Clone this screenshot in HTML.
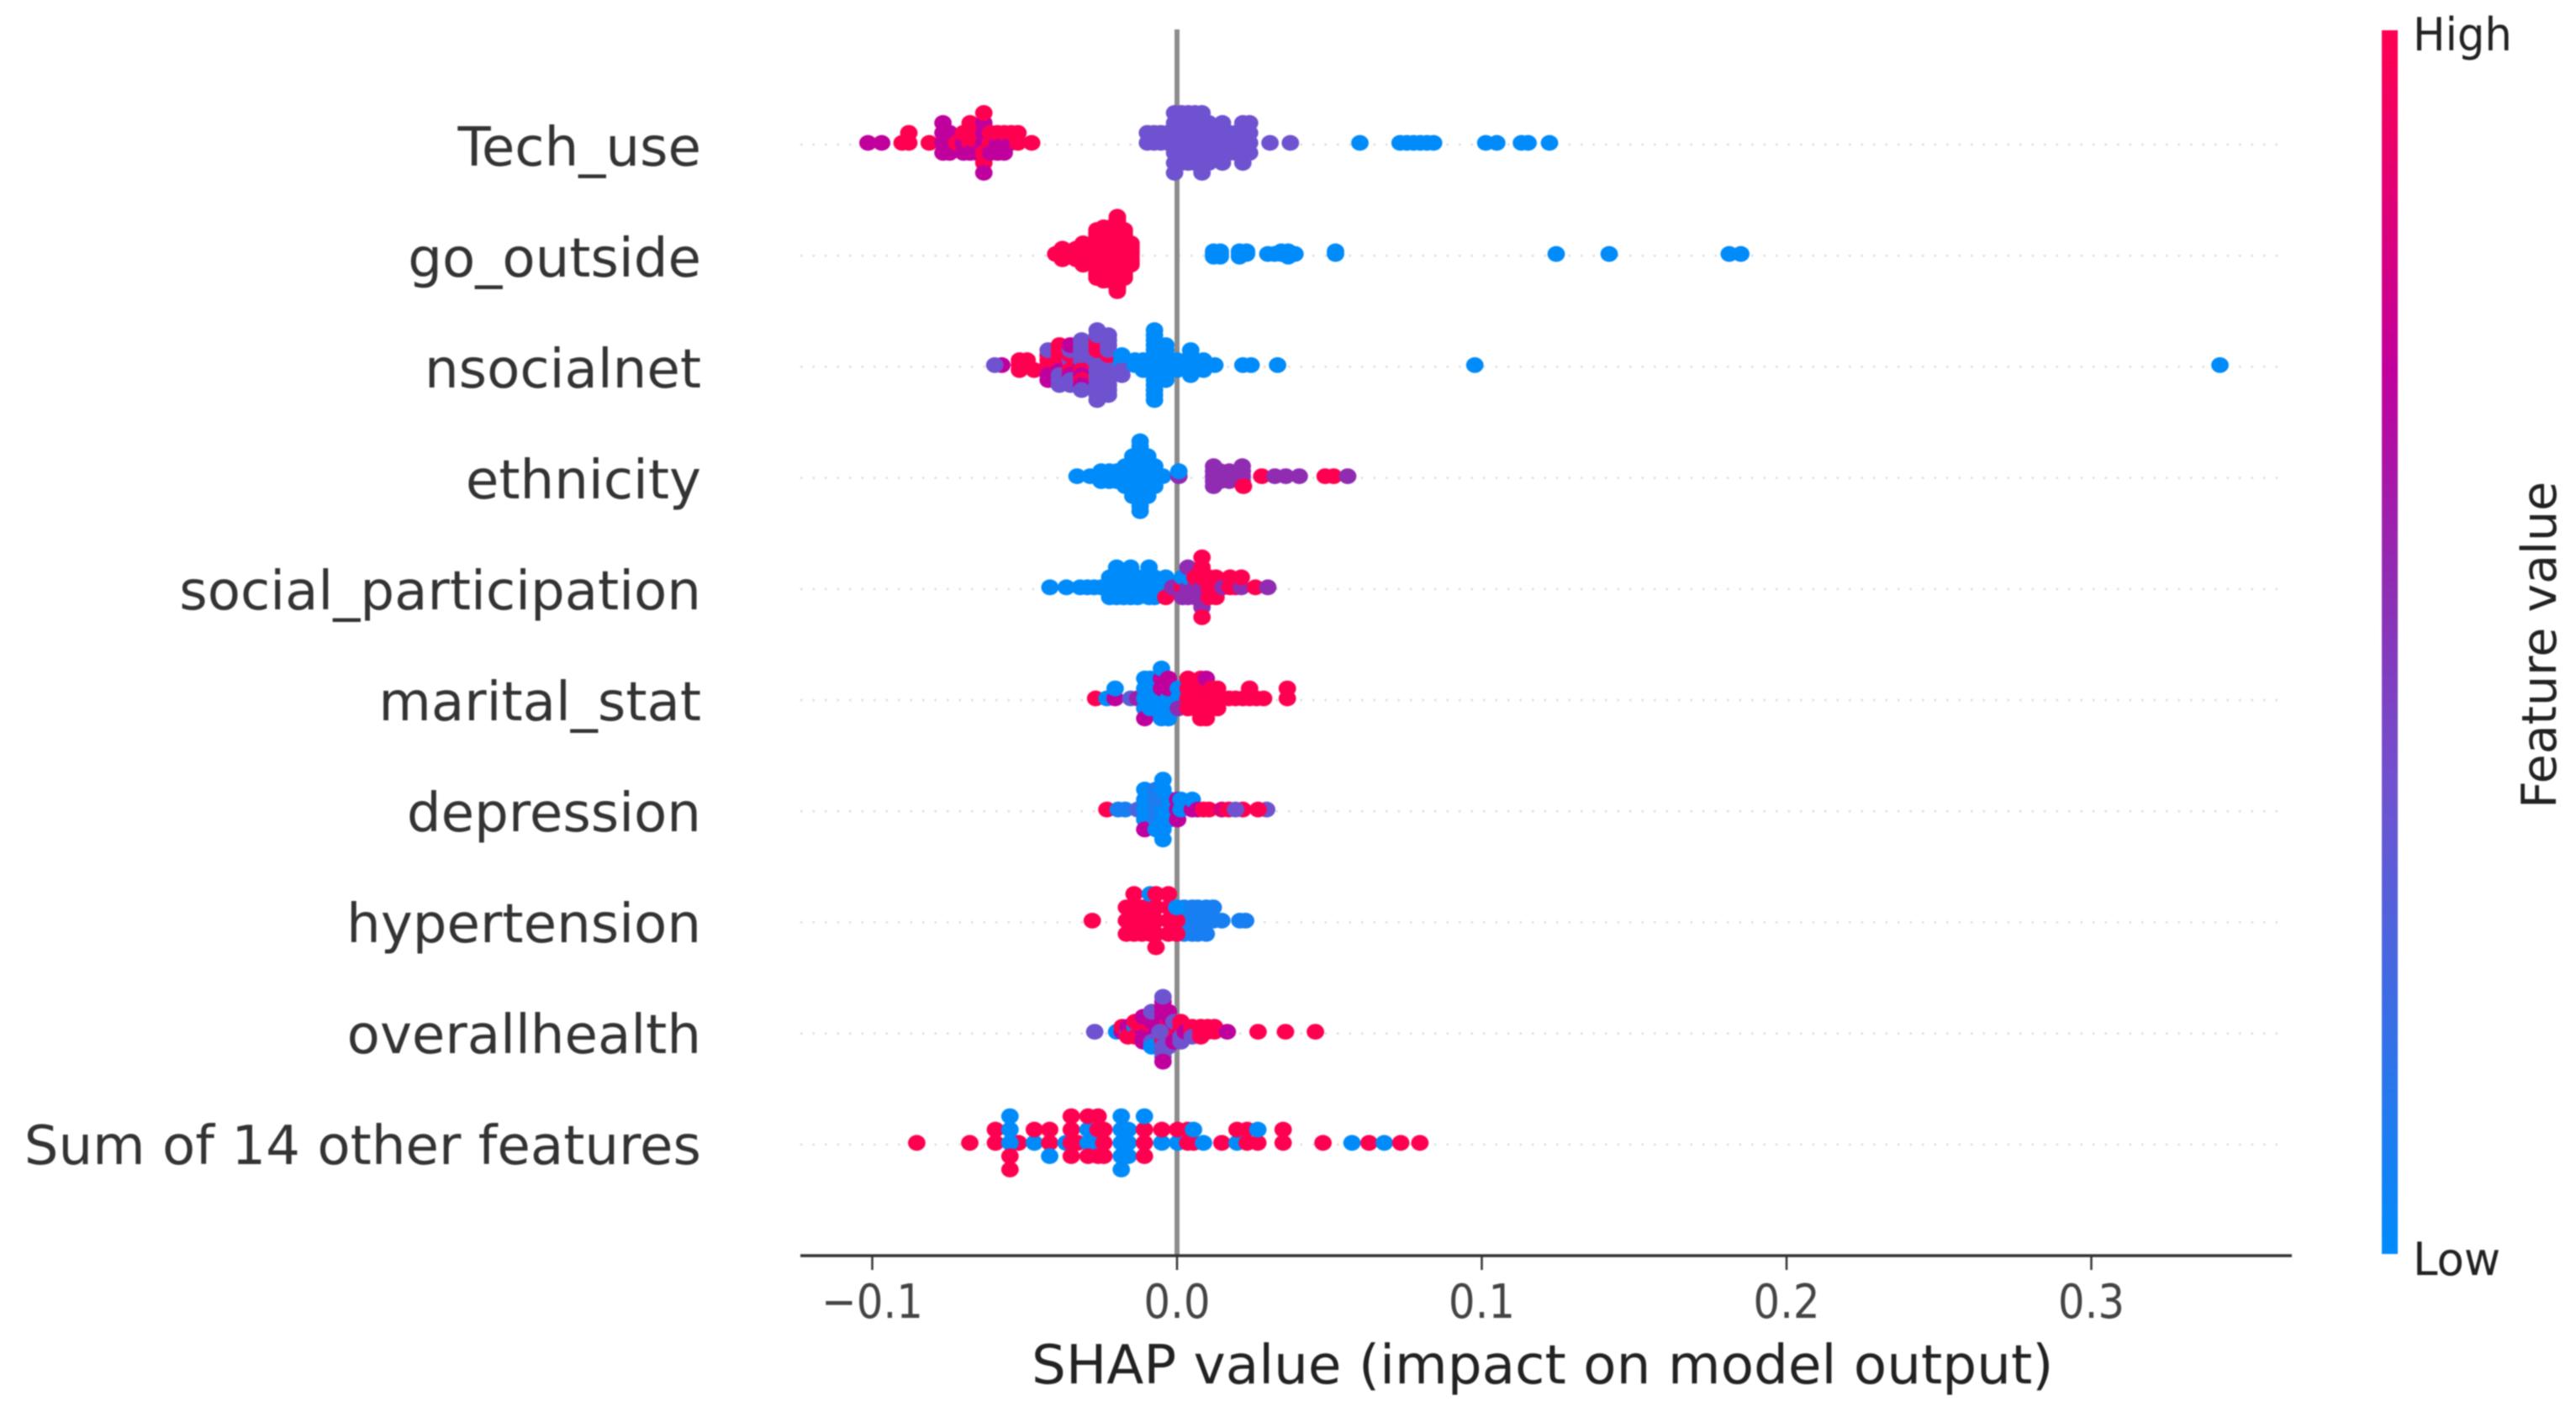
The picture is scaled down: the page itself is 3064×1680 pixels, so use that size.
<!DOCTYPE html>
<html lang="en">
<head>
<meta charset="utf-8">
<title>SHAP beeswarm summary</title>
<style>
html,body{margin:0;padding:0;background:#fff;}
svg{display:block;filter:blur(0.9px);}
text{font-family:"DejaVu Sans","Liberation Sans",sans-serif;}
</style>
</head>
<body>
<svg id="chart" xmlns="http://www.w3.org/2000/svg" width="3064" height="1680" viewBox="0 0 3064 1680">
  <defs>
    <linearGradient id="cbar" x1="0" y1="1" x2="0" y2="0">
      <stop offset="0" stop-color="#008bfb"/>
      <stop offset="0.38" stop-color="#6f52cf"/>
      <stop offset="0.55" stop-color="#8f2cb2"/>
      <stop offset="0.72" stop-color="#c0009c"/>
      <stop offset="1" stop-color="#ff0051"/>
    </linearGradient>
  </defs>
  <rect x="0" y="0" width="3064" height="1680" fill="#fff"/>
  <g id="grid"></g>
  <line id="zero" stroke="#8c8c8c" stroke-width="6"/>
  <g id="dots"></g>
  <g id="labels"></g>
  <g id="axis"></g>
  <text x="1227" y="1646" font-size="64.4" fill="#222">SHAP value (impact on model output)</text>
  <rect x="2833" y="36" width="19" height="1456" fill="url(#cbar)"/>
  <text transform="translate(2870,60) scale(0.95,1)" font-size="54" fill="#222">High</text>
  <text transform="translate(2870,1517) scale(0.98,1)" font-size="54" fill="#222">Low</text>
  <text transform="translate(3040,962) rotate(-90)" font-size="57" fill="#222">Feature value</text>
</svg>
<script>
const featureNames = ["Tech_use","go_outside","nsocialnet","ethnicity","social_participation","marital_stat","depression","hypertension","overallhealth","Sum of 14 other features"];
const xTicks = [-0.1,0,0.1,0.2,0.3];
const xTickLabels = ["\u22120.1","0.0","0.1","0.2","0.3"];

const techUseShap = [-.1014,-.0969,-.0902,-.0880,-.0813,-.0768,-.0746,-.0723,-.0701,-.0701,-.0701,-.0679,-.0679,-.0679,-.0656,-.0656,-.0634,-.0634,-.0634,-.0634,-.0634,-.0612,-.0612,-.0589,-.0589,-.0589,-.0567,-.0567,-.0567,-.0544,-.0544,-.0522,-.0477,-.0097,-.0075,-.0053,-.0030,-.0008,.0015,.0037,.0059,.0082,.0104,.0126,.0149,.0171,.0193,.0216,.0238,.0305,.0372,.0600,.0732,.0754,.0776,.0798,.0820,.0842,.1013,.1049,.1130,.1152,.1222];
const techUseCount = [1,1,1,2,1,4,3,1,1,1,1,2,1,1,2,1,2,1,1,2,1,2,1,1,1,1,1,1,1,1,1,2,1,2,2,2,2,7,6,6,6,7,5,3,5,3,3,5,4,1,1,1,1,1,1,1,1,1,1,1,1,1,1];
const techUseFeature = [.72,.72,1,1,1,.72,.72,1,.72,1,.72,1,.72,1,1,.72,.72,1,.72,1,.72,1,.72,.72,1,.72,.72,1,.72,.72,1,1,1,.38,.38,.38,.38,.38,.38,.38,.38,.38,.38,.38,.38,.38,.38,.38,.38,.38,.38,0,0,0,0,0,0,0,0,0,0,0,0];

const goOutsideShap = [-.0398,-.0376,-.0353,-.0331,-.0308,-.0286,-.0263,-.0241,-.0218,-.0196,-.0173,-.0151,.0120,.0142,.0205,.0228,.0298,.0320,.0342,.0365,.0387,.0520,.1244,.1418,.1812,.1850];
const goOutsideCount = [1,5,3,5,9,7,19,21,21,29,19,9,3,3,3,2,1,1,2,3,1,2,1,1,1,1];
const goOutsideFeature = [1,1,1,1,1,1,1,1,1,1,1,1,0,0,0,0,0,0,0,0,0,0,0,0,0,0];

const nsocialnetShap = [-.0575,-.0598,-.0517,-.0492,-.0469,-.0423,-.0423,-.0423,-.0423,-.0386,-.0386,-.0386,-.0386,-.0386,-.0386,-.0386,-.0386,-.0350,-.0350,-.0350,-.0350,-.0350,-.0350,-.0350,-.0313,-.0313,-.0313,-.0313,-.0313,-.0313,-.0313,-.0313,-.0313,-.0313,-.0262,-.0262,-.0262,-.0262,-.0262,-.0262,-.0262,-.0225,-.0225,-.0225,-.0181,-.0181,-.0181,-.0181,-.0138,-.0111,-.0074,-.0037,-.0000,.0045,.0087,.0124,.0216,.0243,.0330,.0977,.3422];
const nsocialnetCount = [1,1,3,2,1,4,1,1,1,2,1,1,1,1,1,1,1,1,1,2,1,2,1,1,1,1,1,1,1,1,1,1,1,2,5,1,1,1,1,1,5,3,1,9,2,1,1,1,2,3,15,8,3,6,3,1,1,1,1,1,1];
const nsocialnetFeature = [.72,.38,1,1,1,1,.72,.38,.72,1,.72,1,.38,1,.38,1,.38,1,.38,1,.72,.38,.72,.38,.72,.38,1,.38,.72,.38,1,.38,.72,.38,.38,1,.38,1,.38,1,.38,.38,1,.38,0,.38,0,.38,0,0,0,0,0,0,0,0,0,0,0,0,0];

const ethnicityShap = [-.0328,-.0285,-.0249,-.0222,-.0197,-.0170,-.0145,-.0121,-.0096,-.0073,-.0047,.0006,.0006,.0120,.0142,.0172,.0214,.0218,.0278,.0321,.0357,.0401,.0486,.0514,.0560];
const ethnicityCount = [1,1,3,3,3,5,9,15,9,5,1,1,1,5,3,3,4,1,1,1,1,1,1,1,1];
const ethnicityFeature = [0,0,0,0,0,0,0,0,0,0,0,.55,0,.55,.55,.55,.55,1,1,.55,.55,.55,1,1,.55];

const socialShap = [-.0417,-.0363,-.0318,-.0294,-.0272,-.0249,-.0221,-.0198,-.0175,-.0152,-.0129,-.0092,-.0074,-.0037,-.0037,-.0014,.0018,.0018,.0018,.0036,.0036,.0036,.0059,.0059,.0059,.0082,.0082,.0082,.0082,.0082,.0082,.0105,.0128,.0151,.0174,.0192,.0211,.0211,.0257,.0298];
const socialCount = [1,1,1,1,1,1,3,4,3,4,3,4,3,2,1,1,1,1,1,1,1,2,1,1,1,1,1,1,1,1,2,3,3,1,2,1,1,1,1,1];
const socialFeature = [0,0,0,0,0,0,0,0,0,0,0,0,0,0,1,.55,1,0,.55,.55,0,.55,.55,1,.55,.55,1,.55,1,.55,1,1,1,.55,1,1,.55,1,1,.55];

const maritalShap = [-.0267,-.0230,-.0203,-.0203,-.0152,-.0129,-.0106,-.0106,-.0088,-.0051,-.0051,-.0051,-.0051,-.0051,-.0051,-.0028,-.0028,-.0028,-.0028,-.0028,.0004,.0004,.0036,.0059,.0078,.0096,.0096,.0096,.0114,.0133,.0170,.0192,.0216,.0238,.0261,.0284,.0362];
const maritalCount = [1,1,1,1,1,1,4,1,4,1,1,1,1,1,1,1,1,1,1,1,2,1,4,3,5,3,1,1,3,3,1,1,1,2,1,1,2];
const maritalFeature = [1,0,.72,0,.3,.6,0,.72,0,0,.72,0,.72,0,0,0,.72,0,.72,0,0,.55,1,1,1,1,.72,1,1,1,1,1,1,1,1,1,1];

const depressionShap = [-.0230,-.0193,-.0170,-.0129,-.0106,-.0106,-.0069,-.0069,-.0046,-.0046,-.0046,-.0023,.0002,.0013,.0050,.0050,.0068,.0087,.0105,.0147,.0170,.0216,.0192,.0294,.0266];
const depressionCount = [1,1,1,1,4,1,4,1,1,1,5,3,3,2,1,1,1,1,1,1,1,1,1,1,1];
const depressionFeature = [1,.08,.08,.25,0,.72,.1,0,0,.1,0,0,.72,0,.72,0,.72,1,1,.85,1,1,.38,.38,1];

const hypertensionShap = [.0023,.0050,.0068,.0096,.0119,.0147,.0206,.0225,-.0278,-.0166,-.0152,-.0141,-.0115,-.0088,-.0088,-.0069,-.0028,-.0001,-.0001,-.0001];
const hypertensionCount = [3,3,3,3,2,1,1,1,1,3,1,4,3,3,1,5,4,1,1,1];
const hypertensionFeature = [.08,.08,.08,.08,.08,.08,.08,.08,1,1,1,1,1,1,0,1,1,1,0,1];

const overallHealthShap = [-.0270,-.0198,-.0180,-.0180,-.0161,-.0161,-.0161,-.0138,-.0138,-.0138,-.0111,-.0111,-.0111,-.0111,-.0111,-.0083,-.0083,-.0083,-.0083,-.0083,-.0083,-.0083,-.0046,-.0046,-.0046,-.0046,-.0046,-.0046,-.0046,-.0046,-.0046,-.0046,-.0046,-.0046,-.0028,-.0028,-.0028,-.0028,-.0028,-.0028,-.0010,-.0010,-.0010,-.0010,-.0010,.0013,.0013,.0013,.0013,.0013,.0027,.0050,.0050,.0078,.0101,.0123,.0165,.0266,.0356,.0454,-.0056];
const overallHealthCount = [1,1,1,1,1,1,1,1,1,2,1,1,1,1,2,1,1,2,1,1,1,1,2,1,1,1,1,1,1,1,1,1,2,1,3,1,1,1,1,1,1,1,1,1,1,1,1,1,1,1,1,2,1,3,2,2,1,1,1,1,1];
const overallHealthFeature = [.38,0,.72,1,.38,.72,1,1,0,1,.72,1,.72,1,.72,.72,1,.72,.38,.72,0,.38,.72,1,.72,1,.72,.38,.72,.38,.72,.38,.72,.38,.72,1,.38,.72,.38,.72,.38,.72,1,.38,.72,.72,1,.38,1,.38,.72,1,.38,1,1,1,.72,1,1,1,.38];

const otherShap = [-.0854,-.0680,-.0596,-.0520,-.0548,-.0548,-.0548,-.0548,-.0468,-.0468,-.0418,-.0418,-.0364,-.0347,-.0326,-.0292,-.0292,-.0259,-.0259,-.0240,-.0183,-.0160,-.0107,-.0107,-.0050,-.0050,.0002,.0002,.0035,.0054,.0054,.0087,.0147,.0197,.0197,.0230,.0265,.0265,.0348,.0479,.0574,.0630,.0680,.0734,.0797];
const otherCount = [1,1,2,1,2,1,1,1,1,1,2,1,1,4,1,2,2,1,3,3,5,3,3,1,1,1,1,1,2,1,1,1,1,1,1,2,1,1,2,1,1,1,1,1,1];
const otherFeature = [1,1,1,1,0,1,0,1,0,1,1,0,0,1,1,0,1,0,1,1,0,0,1,0,0,1,0,1,1,1,0,0,1,0,1,1,1,0,1,1,0,1,0,1,1];

const rowShap = [techUseShap,goOutsideShap,nsocialnetShap,ethnicityShap,socialShap,maritalShap,depressionShap,hypertensionShap,overallHealthShap,otherShap];
const rowCount = [techUseCount,goOutsideCount,nsocialnetCount,ethnicityCount,socialCount,maritalCount,depressionCount,hypertensionCount,overallHealthCount,otherCount];
const rowFeature = [techUseFeature,goOutsideFeature,nsocialnetFeature,ethnicityFeature,socialFeature,maritalFeature,depressionFeature,hypertensionFeature,overallHealthFeature,otherFeature];

const SVGNS = "http://www.w3.org/2000/svg";
const xScale = function (v) { return 1400 + 3625 * v; };
const rowY = function (i) { return 170 + 132.2 * i; };
const PLOT_LEFT = 952, PLOT_RIGHT = 2726, GUIDE_RIGHT = 2716, AXIS_Y = 1494;
const SWARM_HEIGHT = 47.5, NBINS = 100;

function lerp(a, b, t) { return a + (b - a) * t; }
function featureColor(f) {
  const pos = [0, .38, .55, .72, 1];
  const rgb = [[0,139,251],[111,82,207],[143,44,178],[192,0,156],[255,0,81]];
  let k = 0;
  while (k < pos.length - 2 && f > pos[k + 1]) k++;
  const t = (f - pos[k]) / (pos[k + 1] - pos[k]);
  const c = [0,1,2].map(function (j) { return Math.round(lerp(rgb[k][j], rgb[k + 1][j], t)); });
  return "rgb(" + c.join(",") + ")";
}

// Expand groups to points and lay them out with the SHAP beeswarm binning rule.
function layoutRow(shap, count, feature) {
  const pts = [];
  shap.forEach(function (v, g) {
    for (let n = 0; n < count[g]; n++) pts.push({ v: v, f: feature[g], order: pts.length });
  });
  const lo = Math.min.apply(null, shap), hi = Math.max.apply(null, shap);
  pts.forEach(function (p) { p.bin = Math.round(NBINS * (p.v - lo) / (hi - lo + 1e-8)); });
  const sorted = pts.slice().sort(function (a, b) { return a.bin - b.bin || a.order - b.order; });
  let layer = 0, last = -1, maxY = 0;
  sorted.forEach(function (p) {
    if (p.bin !== last) { layer = 0; last = p.bin; }
    p.y = Math.ceil(layer / 2) * ((layer % 2) * 2 - 1);
    maxY = Math.max(maxY, p.y);
    layer++;
  });
  const step = SWARM_HEIGHT / (maxY + 1);
  pts.forEach(function (p) { p.dy = p.y * step; });
  return pts;
}

const grid = document.getElementById("grid");
const dots = document.getElementById("dots");
const labels = document.getElementById("labels");
const axis = document.getElementById("axis");
const zero = document.getElementById("zero");
zero.setAttribute("x1", xScale(0));
zero.setAttribute("x2", xScale(0));
zero.setAttribute("y1", 35);
zero.setAttribute("y2", AXIS_Y);

featureNames.forEach(function (name, i) {
  const y = rowY(i);
  const guide = document.createElementNS(SVGNS, "line");
  
  
  guide.setAttribute("x1", PLOT_LEFT);
  guide.setAttribute("x2", GUIDE_RIGHT);
  guide.setAttribute("y1", y + 2);
  guide.setAttribute("y2", y + 2);
  guide.setAttribute("stroke", "#dcdcdc");
  guide.setAttribute("stroke-width", "2.5");
  guide.setAttribute("stroke-dasharray", "2.5 12");
  grid.appendChild(guide);

  const label = document.createElementNS(SVGNS, "text");
  
  
  label.setAttribute("x", 834);
  label.setAttribute("y", y + 27 - 0.2 * i);
  label.setAttribute("text-anchor", "end");
  label.setAttribute("font-size", "64.2");
  label.setAttribute("fill", "#333");
  label.textContent = name;
  labels.appendChild(label);

  const group = document.createElementNS(SVGNS, "g");
  
  
  layoutRow(rowShap[i], rowCount[i], rowFeature[i]).forEach(function (p) {
    const dot = document.createElementNS(SVGNS, "ellipse");
    
    
    dot.setAttribute("cx", xScale(p.v).toFixed(1));
    dot.setAttribute("cy", (y - p.dy).toFixed(1));
    dot.setAttribute("rx", "10.4");
    dot.setAttribute("ry", "9.4");
    dot.setAttribute("fill", featureColor(p.f));
    group.appendChild(dot);
  });
  dots.appendChild(group);
});

const axisLine = document.createElementNS(SVGNS, "line");


axisLine.setAttribute("x1", PLOT_LEFT);
axisLine.setAttribute("x2", PLOT_RIGHT);
axisLine.setAttribute("y1", AXIS_Y);
axisLine.setAttribute("y2", AXIS_Y);
axisLine.setAttribute("stroke", "#333");
axisLine.setAttribute("stroke-width", "3.5");
axis.appendChild(axisLine);

xTicks.forEach(function (t, i) {
  const x = xScale(t);
  const tick = document.createElementNS(SVGNS, "line");
  
  
  tick.setAttribute("x1", x);
  tick.setAttribute("x2", x);
  tick.setAttribute("y1", AXIS_Y);
  tick.setAttribute("y2", AXIS_Y + 17);
  tick.setAttribute("stroke", "#333");
  tick.setAttribute("stroke-width", "2.5");
  axis.appendChild(tick);

  const tl = document.createElementNS(SVGNS, "text");
  
  
  tl.setAttribute("transform", "translate(" + x + ",1568) scale(0.89,1)");
  tl.setAttribute("text-anchor", "middle");
  tl.setAttribute("font-size", "56");
  tl.setAttribute("fill", "#444");
  tl.textContent = xTickLabels[i];
  axis.appendChild(tl);
});
</script>
</body>
</html>
